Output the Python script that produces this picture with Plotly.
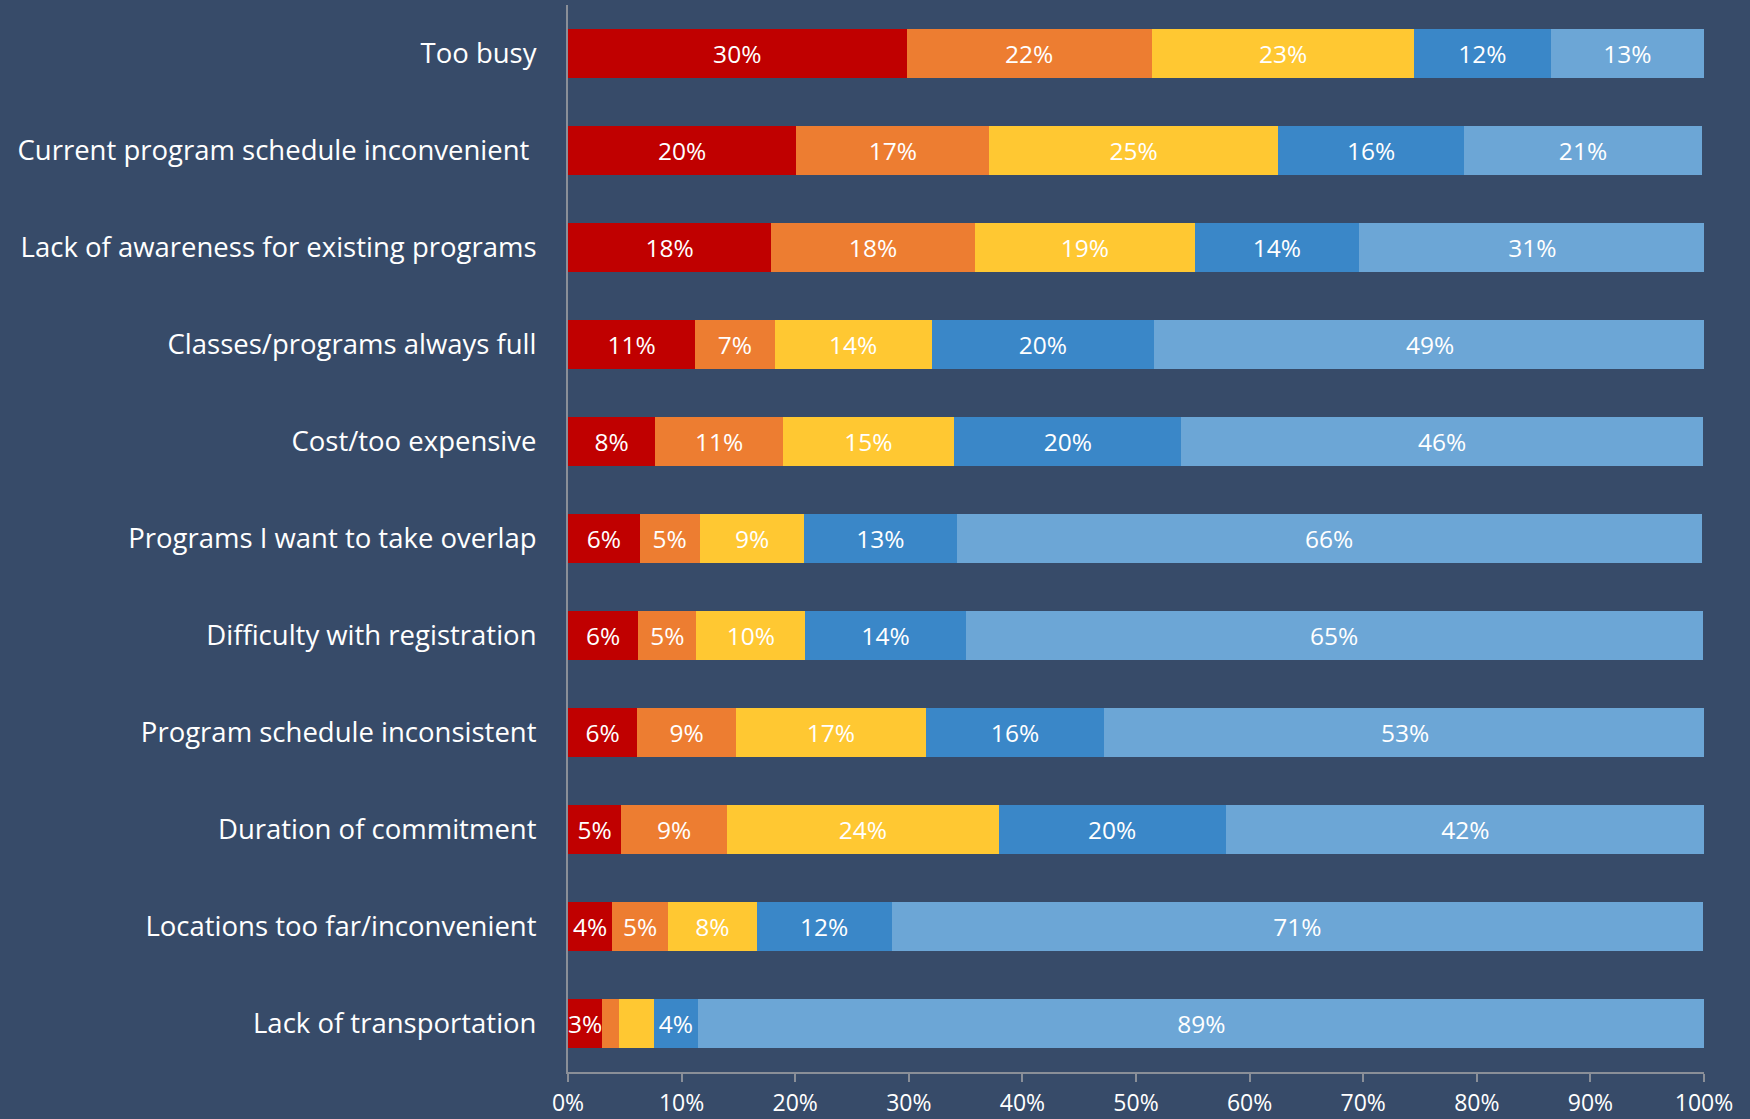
import plotly.graph_objects as go

categories = [
    "Too busy",
    "Current program schedule inconvenient ",
    "Lack of awareness for existing programs",
    "Classes/programs always full",
    "Cost/too expensive",
    "Programs I want to take overlap",
    "Difficulty with registration",
    "Program schedule inconsistent",
    "Duration of commitment",
    "Locations too far/inconvenient",
    "Lack of transportation",
]

# shares per segment (percent)
seg1 = [29.8, 20.1, 17.9, 11.2, 7.7, 6.3, 6.2, 6.1, 4.7, 3.9, 3.0]
seg2 = [21.6, 17.0, 17.9, 7.0, 11.2, 5.3, 5.1, 8.7, 9.3, 4.9, 1.5]
seg3 = [23.1, 25.4, 19.4, 13.8, 15.1, 9.2, 9.6, 16.7, 23.9, 7.8, 3.1]
seg4 = [12.0, 16.4, 14.4, 19.6, 20.0, 13.4, 14.1, 15.7, 20.0, 11.9, 3.8]
seg5 = [13.5, 20.9, 30.6, 48.6, 45.9, 65.6, 64.9, 53.0, 42.2, 71.4, 88.7]

# labels shown on the bars ("" = no label)
lab1 = ["30%", "20%", "18%", "11%", "8%", "6%", "6%", "6%", "5%", "4%", "3%"]
lab2 = ["22%", "17%", "18%", "7%", "11%", "5%", "5%", "9%", "9%", "5%", ""]
lab3 = ["23%", "25%", "19%", "14%", "15%", "9%", "10%", "17%", "24%", "8%", ""]
lab4 = ["12%", "16%", "14%", "20%", "20%", "13%", "14%", "16%", "20%", "12%", "4%"]
lab5 = ["13%", "21%", "31%", "49%", "46%", "66%", "65%", "53%", "42%", "71%", "89%"]

colors = ["#C00000", "#ED7D31", "#FFC832", "#3A87C8", "#6CA6D6"]
BG = "#374B69"
AXIS = "#8A8F98"
FONT = "Open Sans"

fig = go.Figure()
for vals, labs, col in zip(
    [seg1, seg2, seg3, seg4, seg5],
    [lab1, lab2, lab3, lab4, lab5],
    colors,
):
    fig.add_trace(
        go.Bar(
            y=categories,
            x=[v / 100 for v in vals],
            orientation="h",
            marker=dict(color=col, line=dict(width=0)),
            text=labs,
            textposition="inside",
            insidetextanchor="middle",
            textangle=0,
            textfont=dict(color="white", size=24.5, family=FONT),
            hoverinfo="skip",
        )
    )

fig.update_layout(
    barmode="stack",
    bargap=0.49,
    showlegend=False,
    width=1750,
    height=1119,
    paper_bgcolor=BG,
    plot_bgcolor=BG,
    margin=dict(l=568, r=46, t=5, b=47),
    font=dict(family=FONT, color="white"),
    uniformtext=dict(minsize=24, mode="show"),
)
fig.update_xaxes(
    range=[0, 1],
    dtick=0.1,
    tickformat=".0%",
    showgrid=False,
    zeroline=False,
    showline=True,
    linecolor=AXIS,
    linewidth=2,
    ticks="outside",
    tickcolor=AXIS,
    tickwidth=2,
    ticklen=8,
    ticklabelstandoff=1,
    automargin=False,
    tickfont=dict(size=23, color="white"),
)
fig.update_yaxes(
    autorange="reversed",
    showgrid=False,
    zeroline=False,
    showline=True,
    linecolor=AXIS,
    linewidth=2,
    ticks="",
    ticklabelstandoff=24,
    automargin=False,
    tickfont=dict(size=27.5, color="white"),
)

# drop the page margin so the figure fills the window
fig.write_html(
    "out.html",
    config={"displayModeBar": False},
    post_script="document.body.style.margin='0';"
    "document.body.style.background='" + BG + "';",
)
